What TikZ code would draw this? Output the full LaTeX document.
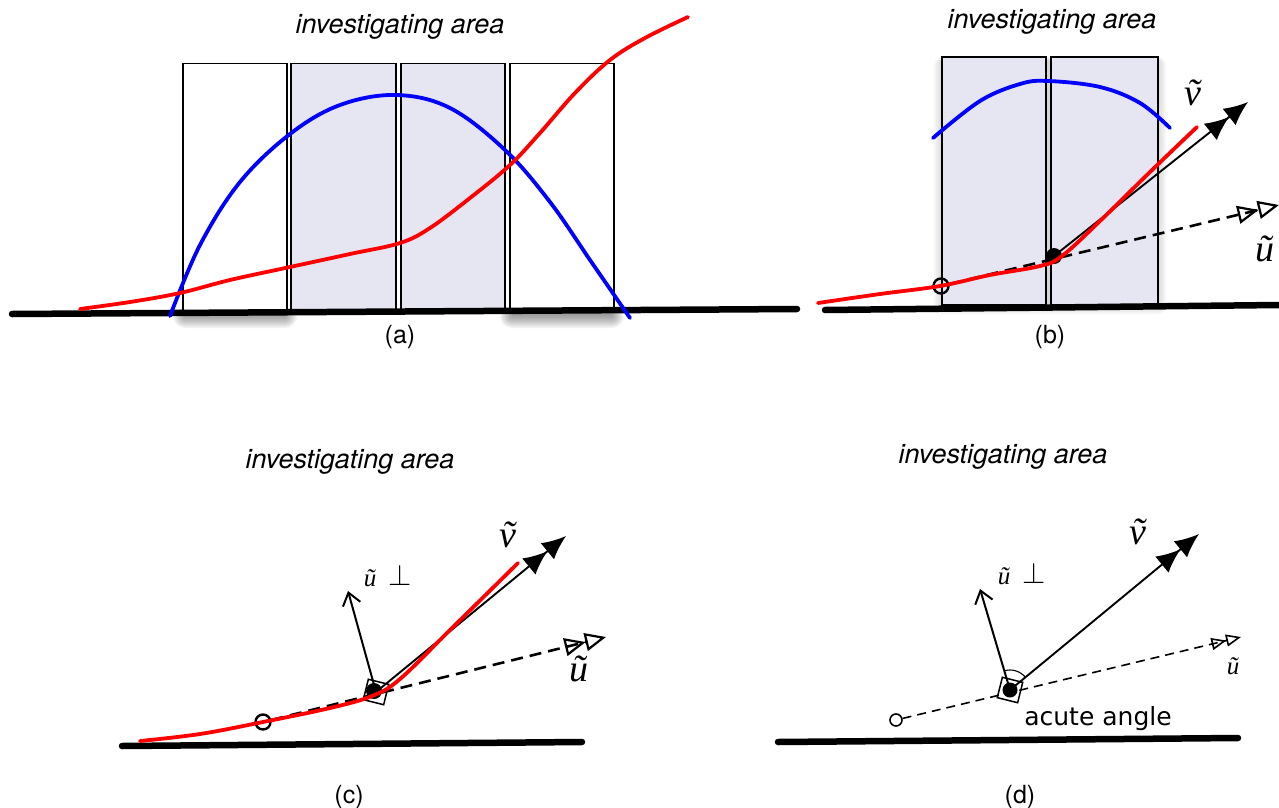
\documentclass[tikz,border=0pt]{standalone}
\usepackage{fontspec}
\setsansfont{TeX Gyre Heros}
\newfontfamily\lucidafont{DejaVu Sans}
\newfontfamily\timesfont{Liberation Serif}
\usetikzlibrary{arrows.meta}
\definecolor{boxfill}{RGB}{230,230,243}
\begin{document}
\begin{tikzpicture}[x=1pt,y=-1pt,
 ground/.style={line width=6.5pt, line cap=round},
 colbox/.style={draw=black, line width=1.8pt, fill=white},
 shadedbox/.style={colbox, fill=boxfill},
 redcurve/.style={draw=red, line width=3.8pt, line cap=round},
 bluecurve/.style={draw=blue, line width=3.8pt, line cap=round},
 titletext/.style={font=\sffamily\itshape\fontsize{27}{30}\selectfont},
 captiontext/.style={font=\sffamily\fontsize{25}{27}\selectfont},
 bigsym/.style={font=\timesfont\itshape\fontsize{38}{40}\selectfont},
 smallsym/.style={font=\timesfont\itshape\fontsize{25}{27}\selectfont},
 opendot/.style={circle, draw, line width=2.4pt, minimum size=15pt, inner sep=0pt},
 smalldot/.style={circle, draw, line width=1.6pt, minimum size=12pt, inner sep=0pt, fill=white},
 fulldot/.style={circle, fill=black, minimum size=16pt, inner sep=0pt},
 sqbox/.style={draw, line width=1.5pt, minimum size=21pt, inner sep=0pt, rotate=-14},
 varrow/.style={line width=1.9pt, -{Latex[length=24pt,width=21pt]Latex[length=24pt,width=21pt]}},
 uarrow/.style={line width=2.6pt, dash pattern=on 12pt off 7pt, -{Triangle[open,length=21pt,width=18pt,line width=2.2pt]Triangle[open,length=21pt,width=18pt,line width=2.2pt]}},
 uarrowthin/.style={line width=1.6pt, dash pattern=on 9pt off 6pt, -{Triangle[open,length=15pt,width=12pt,line width=1.6pt]Triangle[open,length=15pt,width=12pt,line width=1.6pt]}},
 perparrow/.style={line width=2pt, -{Straight Barb[length=12pt,width=18pt,line width=2pt]}},
 softshadow/.style={fill=black, opacity=0.05},
 ]
\useasboundingbox (0,0) rectangle (1279,808);

% ================= (a) =================
\foreach \i in {0,1.5,...,12}{
  \fill[softshadow, rounded corners=\i pt] (185-\i,311-0.3*\i) rectangle (285+\i,316+\i);
  \fill[softshadow, rounded corners=\i pt] (512-\i,311-0.3*\i) rectangle (612+\i,316+\i);
}
\node[colbox, minimum width=104pt, minimum height=247pt, inner sep=0pt] (a1) at (235,187) {};
\node[shadedbox, minimum width=105pt, minimum height=247pt, inner sep=0pt] (a2) at (343.5,187) {};
\node[shadedbox, minimum width=104pt, minimum height=247pt, inner sep=0pt] (a3) at (453,187) {};
\node[colbox, minimum width=104pt, minimum height=247pt, inner sep=0pt] (a4) at (562,187) {};
\coordinate (ga1) at (12,314);
\coordinate (ga2) at (797,309);
\draw[ground] (ga1) -- (ga2);
\draw[bluecurve] plot[smooth, tension=0.6] coordinates {(170,316) (200,245) (240,182) (290,134) (340,105) (396,95) (450,108) (505,150) (550,202) (590,260) (630,318)};
\draw[redcurve] plot[smooth, tension=0.6] coordinates {(80,309) (130,302) (180,293) (230,280) (290,267) (350,254) (400,243) (430,228) (470,198) (510,165) (540,133) (575,93) (610,60) (645,38) (688,17)};
\node[titletext] (ta) at (400,27) {investigating area};
\node[captiontext] (ca) at (400,337) {(a)};

% ================= (b) =================
\foreach \i in {0,2,...,8}{
  \fill[softshadow, opacity=0.035, rounded corners=\i pt] (942-\i,60-\i*0.3) rectangle (1158+\i,306+\i);
}
\node[shadedbox, minimum width=104pt, minimum height=248pt, inner sep=0pt] (b1) at (994,181) {};
\node[shadedbox, minimum width=107pt, minimum height=248pt, inner sep=0pt] (b2) at (1104.5,181) {};
\coordinate (gb1) at (825,310);
\coordinate (gb2) at (1279,305);
\draw[ground] (gb1) -- (gb2);
\draw[bluecurve] plot[smooth, tension=0.6] coordinates {(933,138) (980,101) (1020,84) (1048,81) (1100,87) (1140,103) (1170,128)};
\node[opendot] (bo) at (941,286) {};
\node[fulldot] (bd) at (1054,256) {};
\coordinate (bu) at (1279,205);
\coordinate (bv) at (1248,102);
\draw[uarrow] (bo) -- (bu);
\draw[varrow] (bd.center) -- (bv);
\draw[redcurve] plot[smooth, tension=0.6] coordinates {(818,303) (880,294) (940,286) (990,275) (1040,266) (1062,256) (1100,221) (1150,172) (1197,127)};
\node[bigsym] (bvl) at (1193,93) {\~{v}};
\node[bigsym] (bul) at (1265,249) {\~{u}};
\node[titletext] (tb) at (1052,22) {investigating area};
\node[captiontext] (cb) at (1050,337) {(b)};

% ================= (c) =================
\coordinate (gc1) at (122,746);
\coordinate (gc2) at (582,742);
\draw[ground] (gc1) -- (gc2);
\node[opendot] (co) at (263,722) {};
\node[fulldot] (cd) at (374,691) {};
\node[sqbox] (cs) at (376,692) {};
\coordinate (cu) at (606,637);
\coordinate (cv) at (566,536);
\coordinate (cp) at (348,591);
\draw[uarrow] (co) -- (cu);
\draw[varrow] (cs.center) -- (cv);
\draw[perparrow] (cs.center) -- (cp);
\draw[redcurve] plot[smooth, tension=0.6] coordinates {(140,741) (200,734) (263,722) (330,708) (372,696) (400,679) (450,630) (518,563)};
\node[bigsym] (cvl) at (508,535) {\~{v}};
\node[bigsym] (cul) at (579,669) {\~{u}};
\node[smallsym] (cpl) at (388,576) {\~{u}\ \ \raisebox{0.05em}{\scalebox{1.2}{$\perp$}}};
\node[titletext] (tc) at (350,462) {investigating area};
\node[captiontext] (cc) at (349,797) {(c)};

% ================= (d) =================
\coordinate (gd1) at (778,742);
\coordinate (gd2) at (1238,738);
\draw[ground] (gd1) -- (gd2);
\node[smalldot] (do) at (896,720) {};
\coordinate (du) at (1241,637);
\coordinate (dv) at (1199,534);
\coordinate (dp) at (980,589);
\draw[uarrowthin] (do) -- (du);
\node[fulldot, minimum size=15pt] (dd) at (1010,690) {};
\node[sqbox] (ds) at (1010,690) {};
\draw[varrow] (ds.center) -- (dv);
\draw[perparrow] (ds.center) -- (dp);
\draw[line width=1.1pt] ([shift={(-39:20)}]ds.center) arc[start angle=-39, end angle=-107, radius=20];
\node[bigsym] (dvl) at (1138,532) {\~{v}};
\node[smallsym] (dul) at (1233,666) {\~{u}};
\node[smallsym] (dpl) at (1022,574) {\~{u}\ \ \raisebox{0.05em}{\scalebox{1.2}{$\perp$}}};
\node[font=\lucidafont\fontsize{25}{27}\selectfont] (acute) at (1098,719) {acute angle};
\node[titletext] (td) at (1003,457) {investigating area};
\node[captiontext] (cdl) at (1020,797) {(d)};
\end{tikzpicture}
\end{document}
